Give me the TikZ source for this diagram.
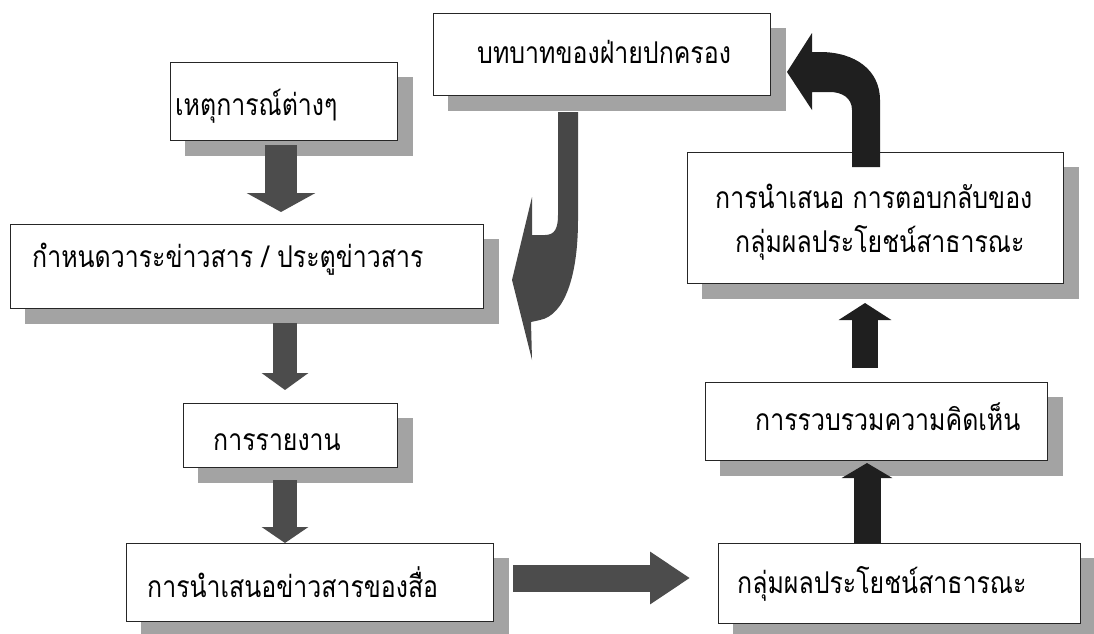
\documentclass[tikz,border=0pt]{standalone}
\usepackage{fontspec}
\newfontfamily\thai[Script=Thai,FakeStretch=0.83]{Loma}
\usetikzlibrary{arrows.meta,backgrounds,calc}
\definecolor{shadowc}{gray}{0.64}
\definecolor{arrowc}{gray}{0.30}
\definecolor{darkarrow}{gray}{0.12}
\tikzset{
  box/.style={draw=black!85, line width=1.3pt, fill=white, inner sep=0pt, anchor=north west},
  txt/.style={font=\thai\fontsize{30}{36}\selectfont, inner sep=0pt, anchor=base west},
  shadowfill/.style={fill=shadowc},
}
\newcommand{\boxshadow}[1]{\fill[shadowfill] ($(#1.north west)+(15,15)$) rectangle ($(#1.south east)+(15,15)$);}
\begin{document}
\begin{tikzpicture}[x=1pt,y=-1pt]
\useasboundingbox (0,0) rectangle (1094,633);
% boxes
\node[box, minimum width=227pt, minimum height=78pt] (b1) at (170,62) {};
\node[box, minimum width=337pt, minimum height=82pt] (b2) at (433,13) {};
\node[box, minimum width=473pt, minimum height=84pt] (b3) at (10,224) {};
\node[box, minimum width=214pt, minimum height=64pt] (b4) at (183,403) {};
\node[box, minimum width=367pt, minimum height=78pt] (b5) at (126,543) {};
\node[box, minimum width=376pt, minimum height=131pt] (b7) at (687,152) {};
\node[box, minimum width=342pt, minimum height=78pt] (b8) at (705,382) {};
\node[box, minimum width=362pt, minimum height=80pt] (b9) at (718,543) {};
\begin{scope}[on background layer]
\boxshadow{b1}\boxshadow{b2}\boxshadow{b3}\boxshadow{b4}
\boxshadow{b5}\boxshadow{b7}\boxshadow{b8}\boxshadow{b9}
\end{scope}
% texts
\node[txt] (t1) at (175,115) {เหตุการณ์ต่างๆ};
\node[txt] (t2) at (477,63) {บทบาทของฝ่ายปกครอง};
\node[txt] (t3) at (32,267) {กำหนดวาระข่าวสาร / ประตูข่าวสาร};
\node[txt] (t4) at (213,450) {การรายงาน};
\node[txt] (t5) at (147,597) {การนำเสนอข่าวสารของสื่อ};
\node[txt] (t7a) at (715,208) {การนำเสนอ การตอบกลับของ};
\node[txt] (t7b) at (735,252) {กลุ่มผลประโยชน์สาธารณะ};
\node[txt] (t8) at (755,430) {การรวบรวมความคิดเห็น};
\node[txt] (t9) at (737,593) {กลุ่มผลประโยชน์สาธารณะ};
% straight block arrows
\coordinate (a1s) at (281,145); \coordinate (a1e) at (281,212);
\coordinate (a2s) at (285,323); \coordinate (a2e) at (285,390);
\coordinate (a3s) at (285,480); \coordinate (a3e) at (285,543);
\coordinate (a4s) at (513,578); \coordinate (a4e) at (690,578);
\coordinate (a5s) at (867,543); \coordinate (a5e) at (867,463);
\coordinate (a6s) at (865,368); \coordinate (a6e) at (865,303);
\draw[arrowc, line width=32pt, -{Triangle[length=19pt 0,width=68pt 0]}] (a1s) -- (a1e);
\draw[arrowc, line width=24pt, -{Triangle[length=17pt 0,width=46pt 0]}] (a2s) -- (a2e);
\draw[arrowc, line width=24pt, -{Triangle[length=16pt 0,width=46pt 0]}] (a3s) -- (a3e);
\draw[arrowc, line width=27pt, -{Triangle[length=40pt 0,width=50pt 0]}] (a4s) -- (a4e);
\draw[darkarrow, line width=27pt, -{Triangle[length=15pt 0,width=50pt 0]}] (a5s) -- (a5e);
\draw[darkarrow, line width=26pt, -{Triangle[length=17pt 0,width=52pt 0]}] (a6s) -- (a6e);
% curved arrow from b7 up to b2
\fill[darkarrow] (852,167) -- (852,110) .. controls (852,98) and (842,92) .. (830,92)
  -- (812,92) -- (812,110) -- (787,72) -- (812,33) -- (812,52) -- (820,52)
  .. controls (855,52) and (880,70) .. (880,100) -- (880,167) -- cycle;
% curved arrow from b2 down to b3
\fill[black!72] (558,112) -- (578,112) -- (578,220) .. controls (578,275) and (565,315) .. (540,320)
  -- (531,322) -- (532,360) -- (512,280) -- (532,197) -- (532,235) -- (545,235)
  .. controls (555,235) and (558,228) .. (558,215) -- cycle;
\end{tikzpicture}
\end{document}
